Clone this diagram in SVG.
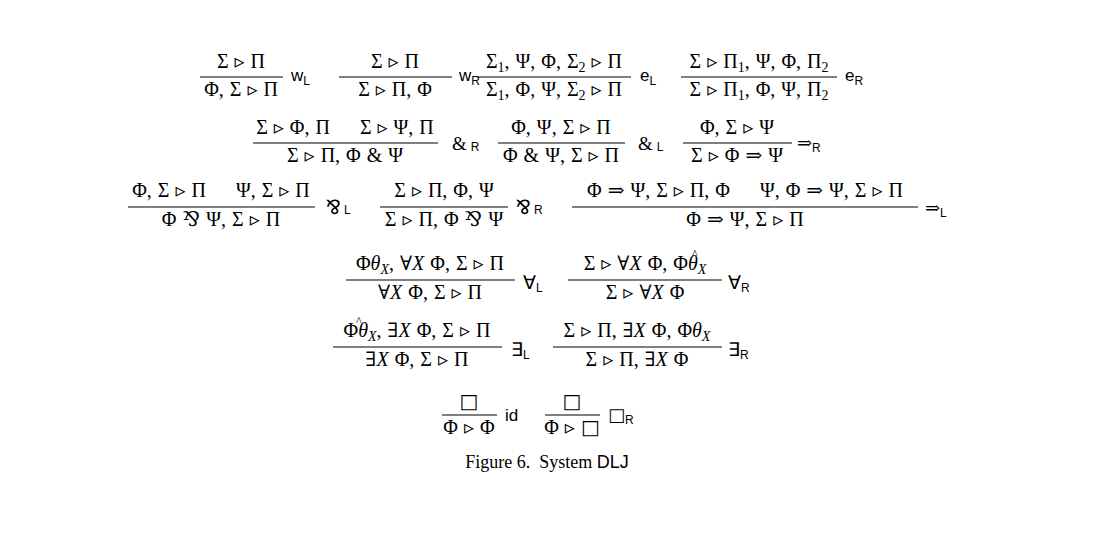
<svg xmlns="http://www.w3.org/2000/svg" width="1094" height="542" viewBox="0 0 1094 542">
<style>
text{white-space:pre}
.m{font-family:"Liberation Serif","DejaVu Serif",serif;font-size:20px;word-spacing:1px;text-anchor:middle;fill:#000}
.l{font-family:"Liberation Sans","DejaVu Sans",sans-serif;font-size:17px;fill:#000}
.i{font-style:italic}
line{stroke:#000;stroke-width:1.1}
.c{font-family:"Liberation Serif",serif;font-size:18px;text-anchor:middle}
.h{font-size:12px;font-style:normal}
.b{font-family:"DejaVu Sans",sans-serif;fill:#000}
</style>
<rect width="1094" height="542" fill="#fff"/>
<g id="connectors">
<line x1="200" y1="77" x2="283" y2="77"/><line x1="339" y1="77" x2="452" y2="77"/><line x1="477" y1="77" x2="631" y2="77"/><line x1="681" y1="77" x2="837" y2="77"/>
<line x1="253" y1="143" x2="438" y2="143"/><line x1="498" y1="143" x2="625" y2="143"/><line x1="683" y1="143" x2="792" y2="143"/>
<line x1="128" y1="207" x2="315" y2="207"/><line x1="380" y1="207" x2="508" y2="207"/><line x1="572" y1="207" x2="918" y2="207"/>
<line x1="346" y1="280" x2="515" y2="280"/><line x1="568" y1="280" x2="722" y2="280"/>
<line x1="333" y1="347" x2="502" y2="347"/><line x1="553" y1="347" x2="722" y2="347"/>
<line x1="442" y1="415" x2="497" y2="415"/><line x1="545" y1="415" x2="600" y2="415"/>
</g>
<g id="wL"><text class="m" x="241" y="68">Σ ▹ Π</text><text class="m" x="241" y="96">Φ, Σ ▹ Π</text><text class="l" x="291" y="81">w<tspan font-size="12" dy="4">L</tspan></text></g>
<g id="wR"><text class="m" x="395" y="68">Σ ▹ Π</text><text class="m" x="395" y="96">Σ ▹ Π, Φ</text><text class="l" x="459" y="81">w<tspan font-size="12" dy="4">R</tspan></text></g>
<g id="eL"><text class="m" x="554" y="68">Σ<tspan font-size="14" dy="4">1</tspan><tspan dy="-4">, Ψ, Φ, Σ</tspan><tspan font-size="14" dy="4">2</tspan><tspan dy="-4"> ▹ Π</tspan></text><text class="m" x="554" y="96">Σ<tspan font-size="14" dy="4">1</tspan><tspan dy="-4">, Φ, Ψ, Σ</tspan><tspan font-size="14" dy="4">2</tspan><tspan dy="-4"> ▹ Π</tspan></text><text class="l" x="640" y="81">e<tspan font-size="12" dy="4">L</tspan></text></g>
<g id="eR"><text class="m" x="759" y="68">Σ ▹ Π<tspan font-size="14" dy="4">1</tspan><tspan dy="-4">, Ψ, Φ, Π</tspan><tspan font-size="14" dy="4">2</tspan></text><text class="m" x="759" y="96">Σ ▹ Π<tspan font-size="14" dy="4">1</tspan><tspan dy="-4">, Φ, Ψ, Π</tspan><tspan font-size="14" dy="4">2</tspan></text><text class="l" x="845" y="81">e<tspan font-size="12" dy="4">R</tspan></text></g>
<g id="andR"><text class="m" x="345" y="134">Σ ▹ Φ, Π     Σ ▹ Ψ, Π</text><text class="m" x="345" y="162">Σ ▹ Π, Φ &amp; Ψ</text><text class="l" x="452" y="150"><tspan font-family="Liberation Serif" font-size="19">&amp;</tspan><tspan font-size="12" dx="4" dy="1">R</tspan></text></g>
<g id="andL"><text class="m" x="561" y="134">Φ, Ψ, Σ ▹ Π</text><text class="m" x="561" y="162">Φ &amp; Ψ, Σ ▹ Π</text><text class="l" x="638" y="150"><tspan font-family="Liberation Serif" font-size="19">&amp;</tspan><tspan font-size="12" dx="4" dy="1">L</tspan></text></g>
<g id="impR"><text class="m" x="737" y="134">Φ, Σ ▹ Ψ</text><text class="m" x="737" y="162">Σ ▹ Φ ⇒ Ψ</text><text class="l" x="797" y="149"><tspan font-family="DejaVu Serif" font-size="18">⇒</tspan><tspan font-size="12" dy="3">R</tspan></text></g>
<g id="parL"><text class="m" x="221" y="197">Φ, Σ ▹ Π     Ψ, Σ ▹ Π</text><text class="m" x="221" y="226">Φ ⅋ Ψ, Σ ▹ Π</text><text class="l" x="326" y="214"><tspan font-family="Liberation Serif" font-size="20">⅋</tspan><tspan font-size="12" dx="3">L</tspan></text></g>
<g id="parR"><text class="m" x="444" y="197">Σ ▹ Π, Φ, Ψ</text><text class="m" x="444" y="226">Σ ▹ Π, Φ ⅋ Ψ</text><text class="l" x="516" y="214"><tspan font-family="Liberation Serif" font-size="20">⅋</tspan><tspan font-size="12" dx="3">R</tspan></text></g>
<g id="impL"><text class="m" x="745" y="197">Φ ⇒ Ψ, Σ ▹ Π, Φ     Ψ, Φ ⇒ Ψ, Σ ▹ Π</text><text class="m" x="745" y="226">Φ ⇒ Ψ, Σ ▹ Π</text><text class="l" x="925" y="214"><tspan font-family="DejaVu Serif" font-size="18">⇒</tspan><tspan font-size="12" dy="3">L</tspan></text></g>
<g id="allL"><text class="m" x="430" y="270">Φ<tspan class="i">θ</tspan><tspan class="i" font-size="14" dy="4">X</tspan><tspan dy="-4">, ∀</tspan><tspan class="i">X</tspan> Φ, Σ ▹ Π</text><text class="m" x="430" y="299">∀<tspan class="i">X</tspan> Φ, Σ ▹ Π</text><text class="l" x="523" y="289"><tspan font-family="Liberation Serif" font-size="19">∀</tspan><tspan font-size="12" dy="3">L</tspan></text></g>
<g id="allR"><text class="m" x="645" y="270">Σ ▹ ∀<tspan class="i">X</tspan> Φ, Φ<tspan class="i">θ</tspan><tspan class="i" font-size="14" dy="4">X</tspan></text><text class="h" x="692" y="258" font-family="Liberation Serif">^</text><text class="m" x="645" y="299">Σ ▹ ∀<tspan class="i">X</tspan> Φ</text><text class="l" x="728" y="289"><tspan font-family="Liberation Serif" font-size="19">∀</tspan><tspan font-size="12" dy="3">R</tspan></text></g>
<g id="exL"><text class="m" x="417" y="337">Φ<tspan class="i">θ</tspan><tspan class="i" font-size="14" dy="4">X</tspan><tspan dy="-4">, ∃</tspan><tspan class="i">X</tspan> Φ, Σ ▹ Π</text><text class="h" x="356" y="325" font-family="Liberation Serif">^</text><text class="m" x="417" y="366">∃<tspan class="i">X</tspan> Φ, Σ ▹ Π</text><text class="l" x="511" y="356"><tspan font-family="Liberation Serif" font-size="19">∃</tspan><tspan font-size="12" dy="3">L</tspan></text></g>
<g id="exR"><text class="m" x="637" y="337">Σ ▹ Π, ∃<tspan class="i">X</tspan> Φ, Φ<tspan class="i">θ</tspan><tspan class="i" font-size="14" dy="4">X</tspan></text><text class="m" x="637" y="366">Σ ▹ Π, ∃<tspan class="i">X</tspan> Φ</text><text class="l" x="728" y="356"><tspan font-family="Liberation Serif" font-size="19">∃</tspan><tspan font-size="12" dy="3">R</tspan></text></g>
<g id="id"><text class="m" x="469" y="408"><tspan class="b">□</tspan></text><text class="m" x="469" y="434">Φ ▹ Φ</text><text class="l" x="505" y="421">id</text></g>
<g id="boxR"><text class="m" x="572" y="408"><tspan class="b">□</tspan></text><text class="m" x="572" y="434">Φ ▹ <tspan class="b">□</tspan></text><text class="l" x="608" y="421"><tspan class="b" font-size="18">□</tspan><tspan font-size="12" dy="3">R</tspan></text></g>
<text class="c" x="547" y="468">Figure 6.  System <tspan font-family="Liberation Sans">DLJ</tspan></text>
</svg>
